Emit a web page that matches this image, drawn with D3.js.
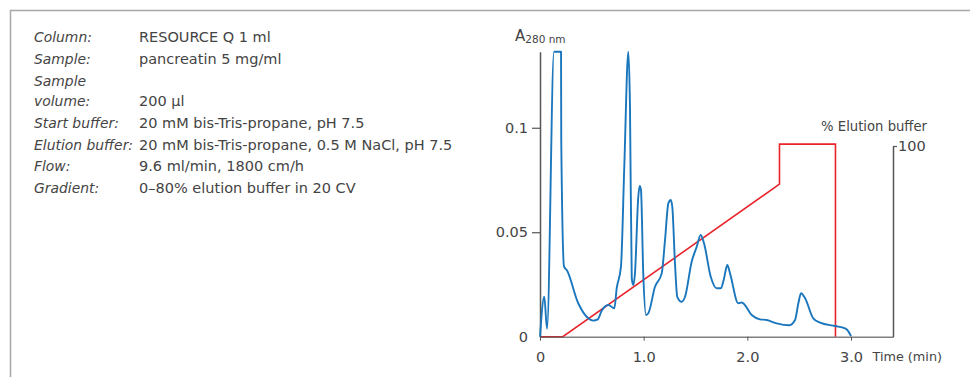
<!DOCTYPE html>
<html>
<head>
<meta charset="utf-8">
<script src="https://cdn.jsdelivr.net/npm/d3@7"></script>
<style>
  html, body { margin: 0; padding: 0; background: #fff; }
  svg { display: block; }
  text { font-family: "DejaVu Sans", "Liberation Sans", sans-serif; fill: #444; }
</style>
</head>
<body>
<script>
// ---- data ----
const infoLabels = ["Column:", "Sample:", "Sample", "volume:", "Start buffer:", "Elution buffer:", "Flow:", "Gradient:"];
const infoValues = ["RESOURCE Q 1 ml", "pancreatin 5 mg/ml", "", "200 µl", "20 mM bis-Tris-propane, pH 7.5",
  "20 mM bis-Tris-propane, 0.5 M NaCl, pH 7.5", "9.6 ml/min, 1800 cm/h", "0–80% elution buffer in 20 CV"];

// chromatogram: time (min) and A280 (values at 0.137 are off-scale / clipped at top of axis)
const timeMin = [0, 0.041, 0.068, 0.135, 0.203, 0.205, 0.232, 0.258, 0.369, 0.466, 0.514, 0.557, 0.595, 0.659, 0.717,
  0.740, 0.781, 0.813, 0.852, 0.868, 0.885, 0.900, 0.916, 0.948, 0.962, 0.974, 0.996, 1.022, 1.045, 1.109, 1.174,
  1.206, 1.238, 1.261, 1.276, 1.302, 1.324, 1.367, 1.399, 1.463, 1.512, 1.550, 1.582, 1.647, 1.704, 1.746, 1.775,
  1.807, 1.833, 1.913, 1.946, 2.042, 2.122, 2.187, 2.283, 2.405, 2.460, 2.492, 2.518, 2.557, 2.636, 2.701, 2.846,
  2.942, 2.964, 3.0];
const a280 = [0, 0.0191, 0.0038, 0.137, 0.137, 0.094, 0.0335, 0.0319, 0.016, 0.0088, 0.0077, 0.0083, 0.0124, 0.0152, 0.0136,
  0.0232, 0.0335, 0.0813, 0.137, 0.110, 0.0279, 0.0247, 0.0303, 0.067, 0.0721, 0.0702, 0.0303, 0.0104, 0.0112, 0.0239, 0.0303,
  0.0463, 0.0638, 0.0654, 0.0622, 0.0351, 0.0191, 0.0167, 0.0191, 0.0359, 0.0431, 0.0487, 0.0447, 0.0287, 0.0232, 0.0232, 0.0279,
  0.0343, 0.0303, 0.016, 0.0164, 0.0104, 0.0083, 0.008, 0.0064, 0.0055, 0.008, 0.016, 0.0208, 0.0184, 0.0088, 0.0067, 0.0051,
  0.004, 0.0032, 0.0003];

// gradient: % elution buffer
const gradTime = [0, 0.22, 2.31, 2.31, 2.85, 2.85];
const gradPct  = [0, 0, 80, 101, 101, 0];

const xTicks = [0, 1, 2, 3];
const xTickLabels = ["0", "1.0", "2.0", "3.0"];
const yTicks = [0, 0.05, 0.1];
const yTickLabels = ["0", "0.05", "0.1"];
const y2Ticks = [100];
const y2TickLabels = ["100"];
const xMax = 3.405, yMax = 0.1364, y2Max = 100;

// ---- layout ----
const W = 970, H = 377;
const svg = d3.select("body").append("svg").attr("width", W).attr("height", H);

// frame
svg.append("path").attr("d", "M10.5,377 V10.5 H970")
  .attr("fill", "none").attr("stroke", "#a8a8a8").attr("stroke-width", 1.5);

// info block
const infoBase = [42, 63.5, 86, 106, 127.5, 149.5, 171, 193];
const info = svg.append("g");
infoLabels.forEach((l, i) => {
  info.append("text").attr("x", 34).attr("y", infoBase[i]).style("font-style", "italic").style("font-size", "13.9px").text(l);
  if (infoValues[i]) info.append("text").attr("x", 139).attr("y", infoBase[i]).style("font-size", "14.5px").text(infoValues[i]);
});

// scales
const x = d3.scaleLinear().domain([0, xMax]).range([540, 893]);
const y = d3.scaleLinear().domain([0, yMax]).range([336.7, 51.7]);
const y2 = d3.scaleLinear().domain([0, y2Max]).range([336.7, 146]);

const axisColor = "#555";

// gradient (red)
const gradData = gradTime.map((t, i) => [t, gradPct[i]]);
svg.append("path").datum(gradData)
  .attr("d", d3.line().x(d => x(d[0])).y(d => y2(d[1])))
  .attr("fill", "none").attr("stroke", "#e8242b").attr("stroke-width", 1.6);

// x axis
const xAxis = svg.append("g").attr("transform", `translate(0,${y(0)})`)
  .call(d3.axisBottom(x).tickValues(xTicks).tickFormat((d, i) => xTickLabels[i]).tickSizeInner(4).tickSizeOuter(0).tickPadding(11));
xAxis.select(".domain").attr("stroke", axisColor).attr("stroke-width", 1.5).attr("stroke-opacity", 0.75);
xAxis.selectAll(".tick line").attr("stroke", axisColor);
xAxis.selectAll(".tick text").style("font-size", "14.5px").attr("fill", "#444").style("font-family", null);

// left axis
const yAxis = svg.append("g").attr("transform", `translate(${x(0)},0)`)
  .call(d3.axisLeft(y).tickValues(yTicks).tickFormat((d, i) => yTickLabels[i]).tickSizeInner(8).tickSizeOuter(0).tickPadding(4));
yAxis.select(".domain").attr("stroke", axisColor).attr("stroke-width", 1.5);
yAxis.selectAll(".tick line").attr("stroke", axisColor).attr("stroke-width", 1.2);
yAxis.selectAll(".tick text").style("font-size", "14.5px").attr("fill", "#444").style("font-family", null);
yAxis.selectAll(".tick").filter(d => d === 0).select("line").remove();

// right axis
const y2Axis = svg.append("g").attr("transform", `translate(${x(xMax)},0)`)
  .call(d3.axisRight(y2).tickValues(y2Ticks).tickFormat((d, i) => y2TickLabels[i]).tickSizeInner(4).tickSizeOuter(0).tickPadding(1));
y2Axis.select(".domain").attr("stroke", axisColor).attr("stroke-width", 1.5);
y2Axis.selectAll(".tick line").attr("stroke", axisColor).attr("stroke-width", 1.2);
y2Axis.selectAll(".tick text").style("font-size", "14.5px").attr("fill", "#444").style("font-family", null);

// chromatogram (blue)
const chrom = timeMin.map((t, i) => [t, a280[i]]);
svg.append("path").datum(chrom)
  .attr("d", d3.line().x(d => x(d[0])).y(d => y(Math.min(d[1], yMax))).curve(d3.curveMonotoneX))
  .attr("fill", "none").attr("stroke", "#1a76bd").attr("stroke-width", 1.9).attr("stroke-linejoin", "round");

// axis titles
const aT = svg.append("text").attr("x", 515).attr("y", 41).style("font-size", "15px");
aT.append("tspan").text("A");
aT.append("tspan").attr("dy", 2).style("font-size", "10.5px").text("280 nm");

svg.append("text").attr("x", 927).attr("y", 131).attr("text-anchor", "end").style("font-size", "13.2px").text("% Elution buffer");
svg.append("text").attr("x", 942).attr("y", 361).attr("text-anchor", "end").style("font-size", "12.8px").text("Time (min)");
</script>
</body>
</html>
